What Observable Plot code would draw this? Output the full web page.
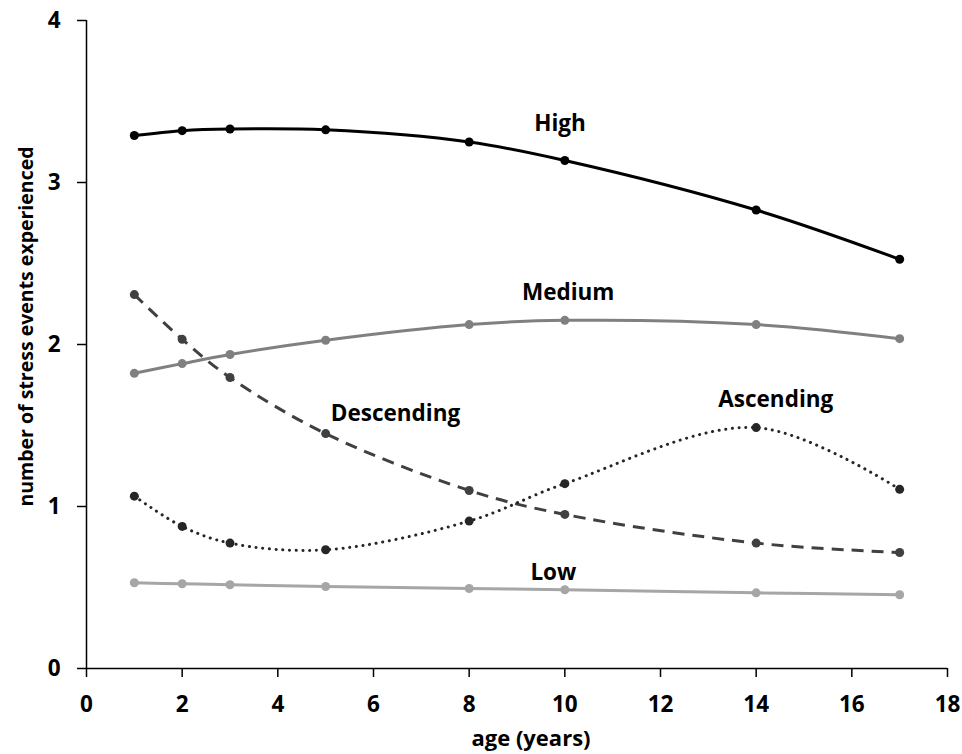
<!DOCTYPE html>
<html><head><meta charset="utf-8">
<script src="https://cdn.jsdelivr.net/npm/d3@7"></script>
<script src="https://cdn.jsdelivr.net/npm/@observablehq/plot@0.6"></script>
<style>
body{margin:0;background:#fff}
#chart svg{font-family:"Open Sans",sans-serif;background:#fff}
</style>
</head><body><div id="chart"></div>
<script>
// ages at which stress events were measured
const ages = [1, 2, 3, 5, 8, 10, 14, 17];
// series values (number of stress events experienced)
const high       = [3.29, 3.32, 3.33, 3.325, 3.25, 3.136, 2.83, 2.526];
const medium     = [1.822, 1.882, 1.938, 2.026, 2.123, 2.149, 2.123, 2.036];
const descending = [2.308, 2.032, 1.796, 1.45, 1.099, 0.951, 0.774, 0.716];
const ascending  = [1.064, 0.877, 0.774, 0.733, 0.91, 1.141, 1.487, 1.106];
const low        = [0.529, 0.523, 0.517, 0.506, 0.494, 0.486, 0.467, 0.455];
const seriesNames = ["High", "Medium", "Descending", "Ascending", "Low"];
// annotation anchor for each series name (data units)
const labelAge   = [9.9, 10.07, 6.46, 14.41, 9.76];
const labelValue = [3.36, 2.32, 1.57, 1.66, 0.59];
// tick labels
const xTicks = [0, 2, 4, 6, 8, 10, 12, 14, 16, 18];
const yTicks = [0, 1, 2, 3, 4];
const xTitle = "age (years)";
const yTitle = "number of stress events experienced";

const seriesValues = [high, medium, descending, ascending, low];
const styles = {
  High:       {stroke: "#000000", dash: null, w: 3},
  Medium:     {stroke: "#808080", dash: null, w: 3},
  Descending: {stroke: "#404040", dash: "12,8", w: 3},
  Ascending:  {stroke: "#262626", dash: "0.1,6.6", w: 3},
  Low:        {stroke: "#a6a6a6", dash: null, w: 3}
};

const marks = [];
seriesNames.forEach((name, s) => {
  const rows = ages.map((a, i) => ({age: a, value: seriesValues[s][i]}));
  const st = styles[name];
  marks.push(Plot.line(rows, {
    x: "age", y: "value", curve: "catmull-rom",
    stroke: st.stroke, strokeWidth: st.w,
    strokeDasharray: st.dash || undefined,
    strokeLinecap: st.dash && st.dash.startsWith("0.1") ? "round" : "butt"
  }));
  marks.push(Plot.dot(rows, {x: "age", y: "value", r: 4.5, fill: st.stroke, stroke: "none"}));
});

const labels = seriesNames.map((n, i) => ({name: n, age: labelAge[i], value: labelValue[i]}));
marks.push(Plot.text(labels, {
  x: "age", y: "value", text: "name", fontSize: 22.5, fontWeight: "bold",
  fill: "#000", textAnchor: "middle", lineAnchor: "middle"
}));

marks.push(Plot.ruleX([0], {y1: 0, y2: 4, stroke: "#000", strokeWidth: 1.5}));
marks.push(Plot.ruleY([0], {x1: 0, x2: 18, stroke: "#000", strokeWidth: 1.5}));
marks.push(Plot.axisX({ticks: xTicks, tickSize: 9, tickPadding: 19, fontSize: 22.5, fontWeight: "bold", label: null, strokeWidth: 1.5, color: "#000"}));
marks.push(Plot.axisY({ticks: yTicks, tickSize: 9, tickPadding: 17, fontSize: 22.5, fontWeight: "bold", label: null, strokeWidth: 1.5, color: "#000", tickFormat: d3.format("d")}));
marks.push(Plot.text([xTitle], {frameAnchor: "bottom", textAnchor: "middle", dx: 14, dy: 77, fontSize: 22, fontWeight: "bold", fill: "#000"}));
marks.push(Plot.text([yTitle], {frameAnchor: "left", textAnchor: "middle", rotate: -90, dx: -60, dy: -18, fontSize: 19.5, fontWeight: "bold", fill: "#000"}));

const chart = Plot.plot({
  width: 962, height: 754,
  marginLeft: 86, marginRight: 15, marginTop: 20, marginBottom: 86,
  x: {domain: [0, 18]},
  y: {domain: [0, 4]},
  style: {background: "#fff", color: "#000"},
  marks
});
document.getElementById("chart").appendChild(chart);
</script>
</body></html>
